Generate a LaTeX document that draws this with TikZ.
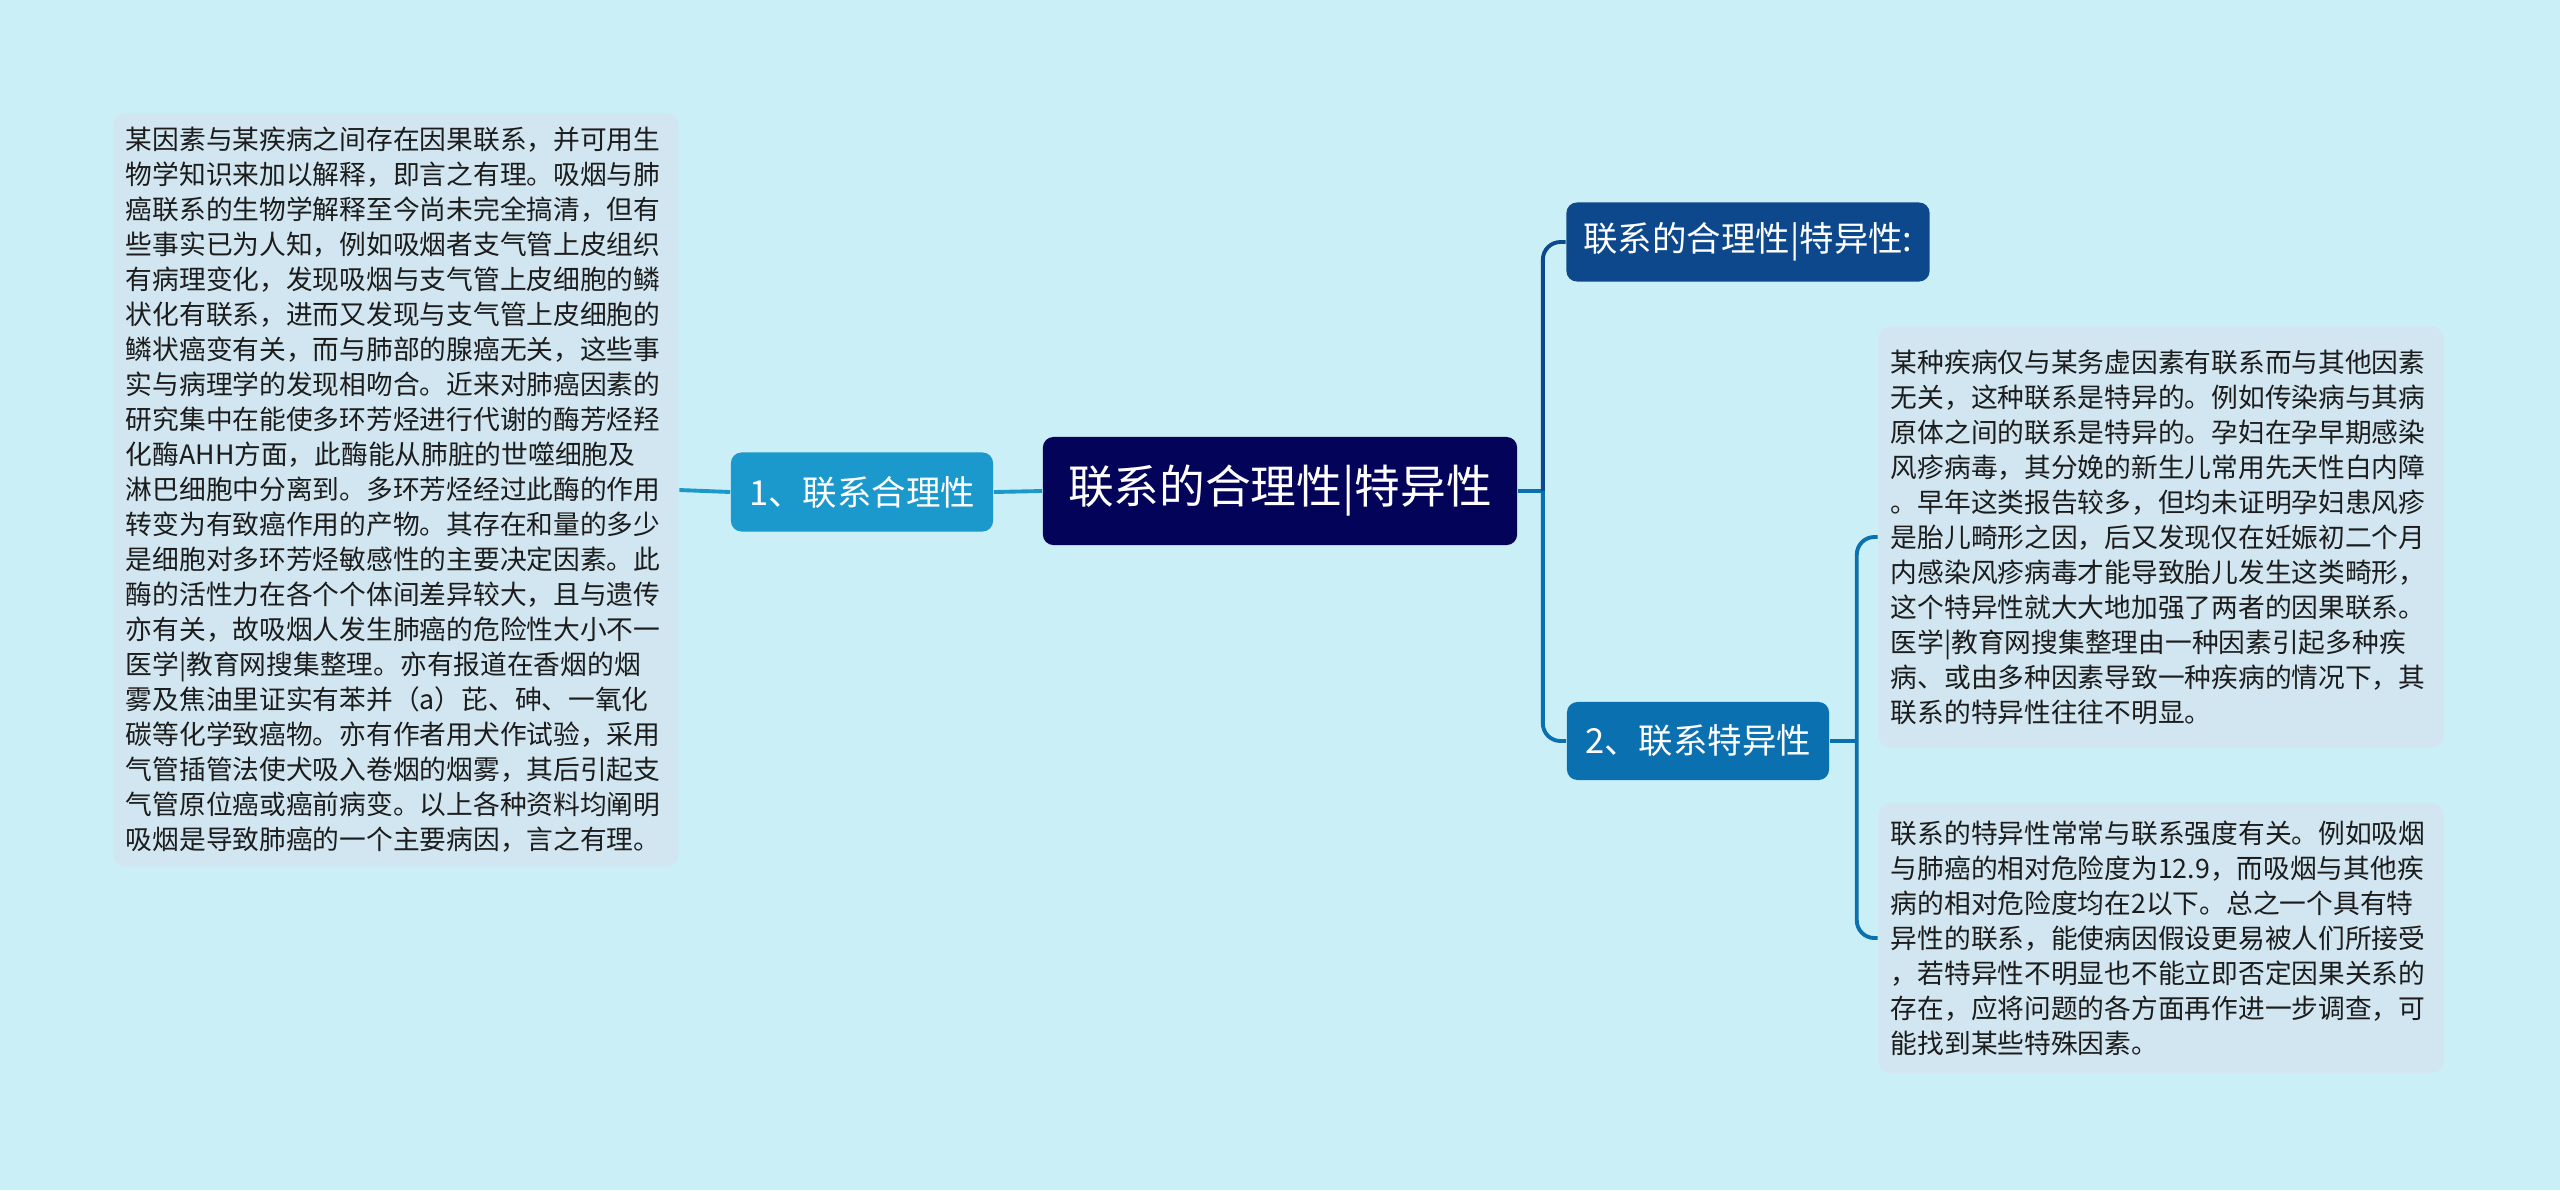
\documentclass[tikz,border=0pt]{standalone}
\usepackage{fontspec}
\setmainfont{Noto Sans CJK SC}
\usepackage{tikz}
\usetikzlibrary{positioning,calc}
\usepackage{xcolor}
\definecolor{skybg}{RGB}{203,239,247}
\definecolor{notefill}{RGB}{209,230,240}
\definecolor{rootnavy}{RGB}{3,3,90}
\definecolor{deepblue}{RGB}{13,72,140}
\definecolor{midblue}{RGB}{10,112,176}
\definecolor{lightblue}{RGB}{27,152,204}
\definecolor{notetext}{RGB}{28,28,28}

\tikzset{
  topic/.style={rounded corners=3pt,text=white,align=center,inner sep=0pt},
  branch/.style={topic,font=\fontsize{9.8pt}{12pt}\selectfont},
  note/.style={fill=notefill,rounded corners=3.5pt,text=notetext,align=left,
    text width=5.4cm,inner xsep=0.125cm,inner ysep=0pt,
    font=\fontsize{7.6pt}{9.95pt}\selectfont},
  link/.style={line width=1.1pt},
}

\begin{document}
\begin{tikzpicture}[x=0.01cm,y=-0.01cm]
  \fill[skybg] (0,0) rectangle (2560,1190);

  % centre and branches
  \node[topic,fill=rootnavy,minimum width=4.74cm,minimum height=1.08cm,
        font=\fontsize{13pt}{15pt}\selectfont] (root) at (1280,491) {联系的合理性|特异性};
  \node[branch,fill=lightblue,minimum width=2.62cm,minimum height=0.79cm]
    (reason) at (862,492) {1、联系合理性};
  \node[branch,fill=deepblue,minimum width=3.63cm,minimum height=0.79cm]
    (title) at (1748,242) {联系的合理性|特异性:};
  \node[branch,fill=midblue,minimum width=2.62cm,minimum height=0.78cm]
    (spec) at (1698,741) {2、联系特异性};

  % notes
  \node[note,minimum height=7.53cm] (reasonnote) at (396,490) {%
    某因素与某疾病之间存在因果联系，并可用生\\
    物学知识来加以解释，即言之有理。吸烟与肺\\
    癌联系的生物学解释至今尚未完全搞清，但有\\
    些事实已为人知，例如吸烟者支气管上皮组织\\
    有病理变化，发现吸烟与支气管上皮细胞的鳞\\
    状化有联系，进而又发现与支气管上皮细胞的\\
    鳞状癌变有关，而与肺部的腺癌无关，这些事\\
    实与病理学的发现相吻合。近来对肺癌因素的\\
    研究集中在能使多环芳烃进行代谢的酶芳烃羟\\
    化酶AHH方面，此酶能从肺脏的世噬细胞及\\
    淋巴细胞中分离到。多环芳烃经过此酶的作用\\
    转变为有致癌作用的产物。其存在和量的多少\\
    是细胞对多环芳烃敏感性的主要决定因素。此\\
    酶的活性力在各个个体间差异较大，且与遗传\\
    亦有关，故吸烟人发生肺癌的危险性大小不一\\
    医学|教育网搜集整理。亦有报道在香烟的烟\\
    雾及焦油里证实有苯并（a）芘、砷、一氧化\\
    碳等化学致癌物。亦有作者用犬作试验，采用\\
    气管插管法使犬吸入卷烟的烟雾，其后引起支\\
    气管原位癌或癌前病变。以上各种资料均阐明\\
    吸烟是导致肺癌的一个主要病因，言之有理。};
  \node[note,minimum height=4.21cm] (specnote) at (2161,537) {%
    某种疾病仅与某务虚因素有联系而与其他因素\\
    无关，这种联系是特异的。例如传染病与其病\\
    原体之间的联系是特异的。孕妇在孕早期感染\\
    风疹病毒，其分娩的新生儿常用先天性白内障\\
    。早年这类报告较多，但均未证明孕妇患风疹\\
    是胎儿畸形之因，后又发现仅在妊娠初二个月\\
    内感染风疹病毒才能导致胎儿发生这类畸形，\\
    这个特异性就大大地加强了两者的因果联系。\\
    医学|教育网搜集整理由一种因素引起多种疾\\
    病、或由多种因素导致一种疾病的情况下，其\\
    联系的特异性往往不明显。};
  \node[note,minimum height=2.70cm] (strengthnote) at (2161,938) {%
    联系的特异性常常与联系强度有关。例如吸烟\\
    与肺癌的相对危险度为12.9，而吸烟与其他疾\\
    病的相对危险度均在2以下。总之一个具有特\\
    异性的联系，能使病因假设更易被人们所接受\\
    ，若特异性不明显也不能立即否定因果关系的\\
    存在，应将问题的各方面再作进一步调查，可\\
    能找到某些特殊因素。};

  % connectors
  \coordinate (rootfork) at ($(root.east)+(25,0)$);
  \coordinate (specfork) at ($(spec.east)+(27,0)$);
  \draw[link,lightblue] (root.west) -- (reason.east);
  \draw[link,lightblue] (reason.west) -- (reasonnote.east);
  \draw[link,midblue] (root.east) -- (rootfork);
  \draw[link,deepblue,rounded corners=5pt] (rootfork) |- (title.west);
  \draw[link,midblue,rounded corners=5pt] (rootfork) |- (spec.west);
  \draw[link,midblue] (spec.east) -- (specfork);
  \draw[link,midblue,rounded corners=5pt] (specfork) |- (specnote.west);
  \draw[link,midblue,rounded corners=5pt] (specfork) |- (strengthnote.west);
\end{tikzpicture}
\end{document}
